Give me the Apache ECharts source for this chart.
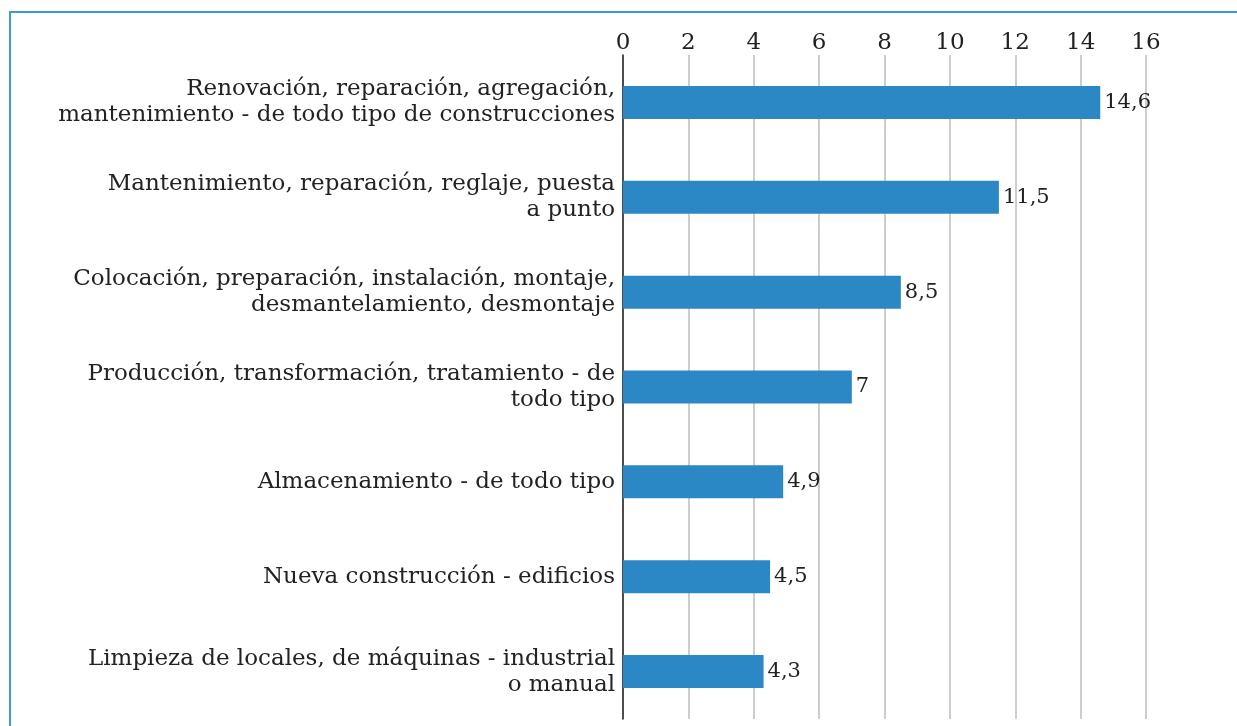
<!DOCTYPE html>
<html>
<head>
<meta charset="utf-8">
<script src="https://cdn.jsdelivr.net/npm/echarts@6/dist/echarts.min.js"></script>
<style>
  html, body { margin: 0; padding: 0; background: #fff; }
  #frame {
    position: absolute; left: 9px; top: 11px; right: 0; bottom: 0;
    border-left: 2px solid #3d9ad7; border-top: 2px solid #3d9ad7;
  }
  #chart { position: absolute; left: 0; top: 0; width: 1237px; height: 726px; }
</style>
</head>
<body>
<div id="frame"></div>
<div id="chart"></div>
<script>
// categorías (de arriba hacia abajo)
const categories = [
  'Renovación, reparación, agregación,\nmantenimiento - de todo tipo de construcciones',
  'Mantenimiento, reparación, reglaje, puesta\na punto',
  'Colocación, preparación, instalación, montaje,\ndesmantelamiento, desmontaje',
  'Producción, transformación, tratamiento - de\ntodo tipo',
  'Almacenamiento - de todo tipo',
  'Nueva construcción - edificios',
  'Limpieza de locales, de máquinas - industrial\no manual'
];
const values = [14.6, 11.5, 8.5, 7, 4.9, 4.5, 4.3];
const xTicks = [0, 2, 4, 6, 8, 10, 12, 14, 16];

const font = '"DejaVu Serif", "Liberation Serif", serif';
const myChart = echarts.init(document.getElementById('chart'));

const option = {
  animation: false,
  grid: { left: 623, right: 91, top: 55, bottom: 7 },
  xAxis: {
    type: 'value',
    position: 'top',
    min: xTicks[0],
    max: xTicks[xTicks.length - 1],
    interval: 2,
    axisLine: { show: false },
    axisTick: { show: false },
    axisLabel: { margin: 0, fontSize: 23, color: '#222', fontFamily: font },
    splitLine: { lineStyle: { color: '#bdbdbd', width: 1.5 } }
  },
  yAxis: {
    type: 'category',
    inverse: true,
    data: categories,
    axisLine: { lineStyle: { color: '#222', width: 1.5 } },
    axisTick: { show: false },
    axisLabel: {
      margin: 8, fontSize: 23, lineHeight: 26, color: '#222',
      fontFamily: font, align: 'right'
    }
  },
  series: [{
    type: 'bar',
    data: values,
    barWidth: 33,
    itemStyle: { color: '#2b88c4' },
    label: {
      show: true,
      position: 'right',
      distance: 4,
      fontSize: 21,
      color: '#222',
      fontFamily: font,
      formatter: p => String(p.value).replace('.', ',')
    }
  }]
};

myChart.setOption(option);
</script>
</body>
</html>
